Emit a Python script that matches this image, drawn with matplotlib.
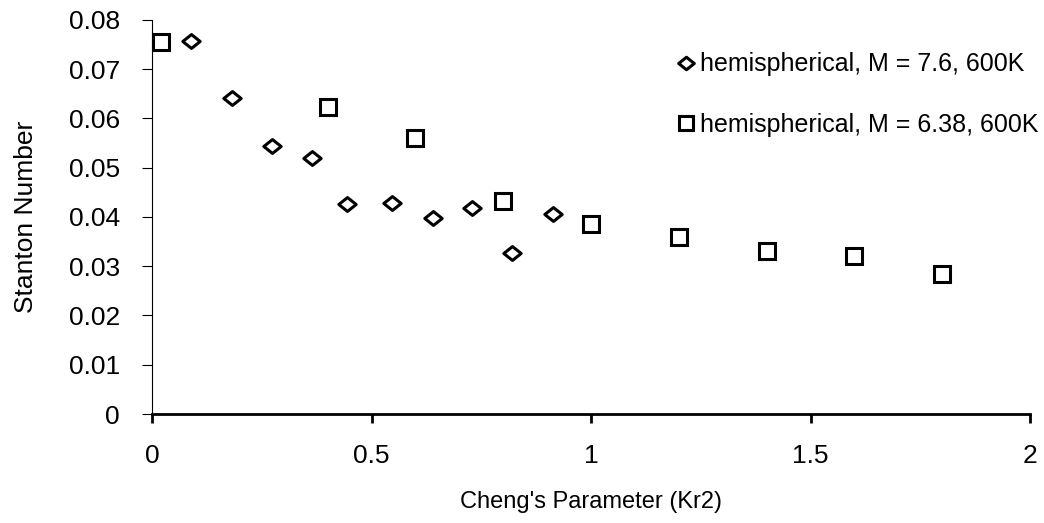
import matplotlib.pyplot as plt
from matplotlib.path import Path

plt.rcParams["font.family"] = ["Liberation Sans", "DejaVu Sans"]

# hemispherical, M = 7.6, 600K
kr2_m76 = [0.089, 0.182, 0.273, 0.364, 0.444, 0.547, 0.640, 0.729, 0.820, 0.913]
st_m76 = [0.0757, 0.0642, 0.0544, 0.0520, 0.0426, 0.0428, 0.0398, 0.0418, 0.0327, 0.0406]

# hemispherical, M = 6.38, 600K
kr2_m638 = [0.02, 0.4, 0.6, 0.8, 1.0, 1.2, 1.4, 1.6, 1.8]
st_m638 = [0.0755, 0.0624, 0.0560, 0.0433, 0.0385, 0.0360, 0.0331, 0.0320, 0.0285]

x_ticks = [0, 0.5, 1, 1.5, 2]
x_tick_labels = ["0", "0.5", "1", "1.5", "2"]
y_ticks = [0, 0.01, 0.02, 0.03, 0.04, 0.05, 0.06, 0.07, 0.08]
y_tick_labels = ["0", "0.01", "0.02", "0.03", "0.04", "0.05", "0.06", "0.07", "0.08"]

# diamond a bit wider than tall, like the original
diamond = Path([(-1, 0), (0, 0.8), (1, 0), (0, -0.8), (-1, 0)], closed=True)

fig = plt.figure(figsize=(10.44, 5.23), dpi=100)
ax = fig.add_axes([0.1456, 0.2084, 0.841, 0.7534])

ax.plot(kr2_m76, st_m76, linestyle="none", marker=diamond, markersize=12.5,
        markerfacecolor="white", markeredgecolor="black", markeredgewidth=2.2,
        clip_on=False, label="hemispherical, M = 7.6, 600K")
ax.plot(kr2_m638, st_m638, linestyle="none", marker="s", markersize=11.5,
        markerfacecolor="white", markeredgecolor="black", markeredgewidth=2.2,
        clip_on=False, label="hemispherical, M = 6.38, 600K")

ax.set_xlim(0, 2)
ax.set_ylim(0, 0.08)
ax.set_xticks(x_ticks, x_tick_labels)
ax.set_yticks(y_ticks, y_tick_labels)
ax.tick_params(axis="both", labelsize=19, direction="out", color="black")
ax.tick_params(axis="x", width=2, length=6.5, pad=15)
ax.tick_params(axis="y", width=0.8, length=7, pad=16)

for side in ["top", "right"]:
    ax.spines[side].set_visible(False)
ax.spines["left"].set_linewidth(0.8)
ax.spines["bottom"].set_linewidth(2)

ax.set_xlabel("Cheng's Parameter (Kr2)", fontsize=17, labelpad=17)
ax.set_ylabel("Stanton Number", fontsize=19, labelpad=22)

ax.legend(loc="upper left", bbox_to_anchor=(0.6475, 0.900),
          bbox_transform=fig.transFigure, frameon=False, borderpad=0,
          borderaxespad=0, fontsize=18, markerscale=0.9, handlelength=0.8,
          handletextpad=0.15, labelspacing=1.46)

fig.savefig("out.png", dpi=100)
